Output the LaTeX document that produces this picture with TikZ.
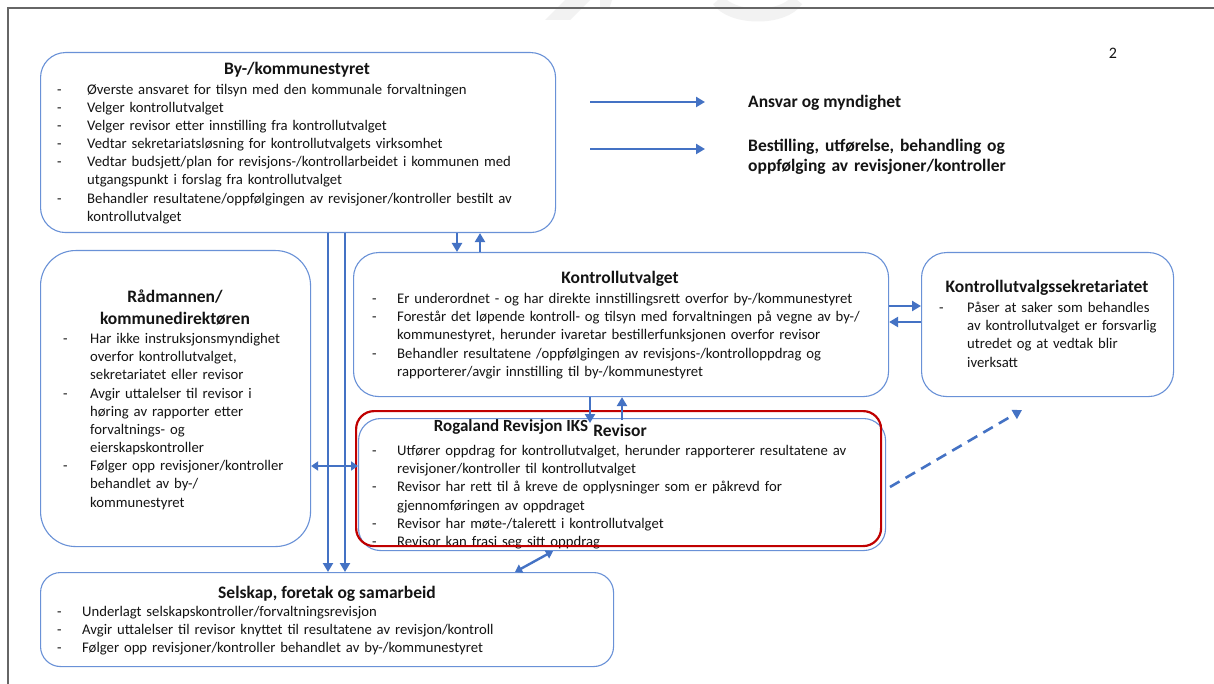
\documentclass[tikz,border=0pt]{standalone}
\usepackage{fontspec}
\setmainfont{Carlito}
\usetikzlibrary{arrows.meta}
\definecolor{bblue}{RGB}{68,114,196}
\definecolor{lblue}{RGB}{105,145,215}
\definecolor{bred}{RGB}{192,0,0}
\definecolor{txt}{RGB}{20,20,20}
\newlength\dashw
\newcommand{\itm}[1]{\par\hangindent=\dashw\hangafter=1\noindent\makebox[\dashw][l]{-}#1\par}
\newcommand{\nl}{\hfil\break}
\begin{document}
\color{txt}%
\begin{tikzpicture}[x=1pt,y=-1pt,
  box/.style={draw=lblue, line width=1.1pt, rounded corners=#1, anchor=north west, inner sep=0pt, fill=white},
  ttl/.style={anchor=base, inner sep=0pt, font=\bfseries\fontsize{17.5}{22}\selectfont},
  lst/.style={anchor=base west, inner sep=0pt, text width=#1, font=\fontsize{14.7}{18.15}\selectfont},
  arr/.style={draw=bblue, line width=2.6pt, -{Triangle[length=9pt,width=10pt]}},
  darr/.style={draw=bblue, line width=2.4pt, {Triangle[length=7pt,width=9pt]}-{Triangle[length=7pt,width=9pt]}},
  leg/.style={anchor=base west, inner sep=0pt, font=\bfseries\fontsize{17.5}{20}\selectfont}
]
\useasboundingbox (0,0) rectangle (1214,684);
\fill[white] (0,0) rectangle (1214,684);
% watermark fragments
\fill[gray!10] (545,20) -- (565,0) -- (590,0) -- (570,20) -- cycle;
\fill[gray!10] (600,0) -- (612,0) -- (609,9) -- (600,9) -- cycle;
\draw[gray!10, line width=13pt] (718,0) .. controls (732,20) and (784,20) .. (797,0);
% frame
\draw[gray!80!black, line width=1.5pt] (8,684) -- (8,8) -- (1214,8);
\node[anchor=base, inner sep=0pt, font=\fontsize{16}{19}\selectfont] (pnum) at (1113,59) {2};

% boxes
\node[box=25pt, minimum width=515pt, minimum height=180pt] (top) at (40,52) {};
\node[box=35pt, minimum width=270pt, minimum height=296pt] (rad) at (40,250) {};
\node[box=25pt, minimum width=535pt, minimum height=144pt] (kut) at (353,252) {};
\node[box=25pt, minimum width=252pt, minimum height=144pt] (sek) at (921,252) {};
\node[box=22pt, minimum width=527pt, minimum height=132pt] (rev) at (358,418) {};
\node[box=20pt, minimum width=573pt, minimum height=94pt] (sel) at (40,572) {};

% texts
\node[ttl] (toptitle) at (297,74.5) {By-/kommunestyret};
\setlength\dashw{30pt}
\node[lst=500pt] (toplist) at (57,76) {%
\itm{Øverste ansvaret for tilsyn med den kommunale forvaltningen}
\itm{Velger kontrollutvalget}
\itm{Velger revisor etter innstilling fra kontrollutvalget}
\itm{Vedtar sekretariatsløsning for kontrollutvalgets virksomhet}
\itm{Vedtar budsjett/plan for revisjons-/kontrollarbeidet i kommunen med\nl utgangspunkt i forslag fra kontrollutvalget}
\itm{Behandler resultatene/oppfølgingen av revisjoner/kontroller bestilt av\nl kontrollutvalget}};

\node[ttl, text width=250pt, align=center] (radtitle) at (175,302.5) {Rådmannen/\\kommunedirektøren};
\setlength\dashw{27pt}
\node[lst=240pt] (radlist) at (63,325.5) {%
\itm{Har ikke instruksjonsmyndighet\nl overfor kontrollutvalget,\nl sekretariatet eller revisor}
\itm{Avgir uttalelser til revisor i\nl høring av rapporter etter\nl forvaltnings- og\nl eierskapskontroller}
\itm{Følger opp revisjoner/kontroller\nl behandlet av by-/\nl kommunestyret}};

\node[ttl] (kuttitle) at (620,283.5) {Kontrollutvalget};
\setlength\dashw{25pt}
\node[lst=520pt] (kutlist) at (372,285.5) {%
\itm{Er underordnet - og har direkte innstillingsrett overfor by-/kommunestyret}
\itm{Forestår det løpende kontroll- og tilsyn med forvaltningen på vegne av by-/\nl kommunestyret, herunder ivaretar bestillerfunksjonen overfor revisor}
\itm{Behandler resultatene /oppfølgingen av revisjons-/kontrolloppdrag og\nl rapporterer/avgir innstilling til by-/kommunestyret}};

\node[ttl] (sektitle) at (1047,292.5) {Kontrollutvalgssekretariatet};
\setlength\dashw{28pt}
\node[lst=240pt] (seklist) at (939,294.5) {%
\itm{Påser at saker som behandles\nl av kontrollutvalget er forsvarlig\nl utredet og at vedtak blir\nl iverksatt}};

\node[ttl, font=\bfseries\fontsize{17}{19}\selectfont] (rogtitle) at (511,431) {Rogaland Revisjon IKS};
\node[ttl, font=\bfseries\fontsize{17.5}{20}\selectfont] (revtitle) at (620,436) {Revisor};
\setlength\dashw{25pt}
\node[lst=520pt] (revlist) at (372,437.5) {%
\itm{Utfører oppdrag for kontrollutvalget, herunder rapporterer resultatene av\nl revisjoner/kontroller til kontrollutvalget}
\itm{Revisor har rett til å kreve de opplysninger som er påkrevd for\nl gjennomføringen av oppdraget}
\itm{Revisor har møte-/talerett i kontrollutvalget}
\itm{Revisor kan frasi seg sitt oppdrag}};

\node[draw=bred, line width=2.2pt, rounded corners=18pt, anchor=north west, inner sep=0pt, minimum width=525pt, minimum height=135pt] (red) at (355,410) {};

\node[ttl] (seltitle) at (327,598.5) {Selskap, foretak og samarbeid};
\setlength\dashw{25pt}
\node[lst=540pt] (sellist) at (57,598.5) {%
\itm{Underlagt selskapskontroller/forvaltningsrevisjon}
\itm{Avgir uttalelser til revisor knyttet til resultatene av revisjon/kontroll}
\itm{Følger opp revisjoner/kontroller behandlet av by-/kommunestyret}};

% legend
\coordinate (l1a) at (590,102); \coordinate (l1b) at (705,102);
\coordinate (l2a) at (590,149); \coordinate (l2b) at (705,149);
\draw[arr] (l1a) -- (l1b);
\draw[arr] (l2a) -- (l2b);
\node[leg] (leg1) at (748,107.5) {Ansvar og myndighet};
\node[leg, text width=320pt] (leg2) at (748,151.5) {Bestilling, utførelse, behandling og\\oppfølging av revisjoner/kontroller};

% connectors
\coordinate (xa) at (457,0); \coordinate (xb) at (480,0);
\draw[arr] (xa |- top.south) -- (xa |- kut.north);
\draw[arr] (xb |- kut.north) -- (xb |- top.south);
\coordinate (xc) at (328,0); \coordinate (xd) at (345,0);
\draw[arr] (xc |- top.south) -- (xc |- sel.north);
\draw[arr] (xd |- top.south) -- (xd |- sel.north);
\coordinate (ya) at (0,466);
\draw[darr] (rad.east |- ya) -- (rev.west |- ya);
\coordinate (xe) at (590,0); \coordinate (xf) at (622,0);
\draw[arr] (xe |- kut.south) -- ([yshift=-5pt]xe |- rev.north);
\draw[arr] ([yshift=-2pt]xf |- rev.north) -- (xf |- kut.south);
\coordinate (yb) at (0,306); \coordinate (yc) at (0,322);
\draw[arr] (kut.east |- yb) -- (sek.west |- yb);
\draw[arr] (sek.west |- yc) -- (kut.east |- yc);
\coordinate (ds) at (890,487); \coordinate (de) at (1022,410);
\draw[arr, dash pattern=on 11pt off 7pt] (ds) -- (de);
\coordinate (xg) at (515,0); \coordinate (xh) at (553,0);
\draw[darr] (xg |- sel.north) -- (xh |- rev.south);
\end{tikzpicture}
\end{document}
